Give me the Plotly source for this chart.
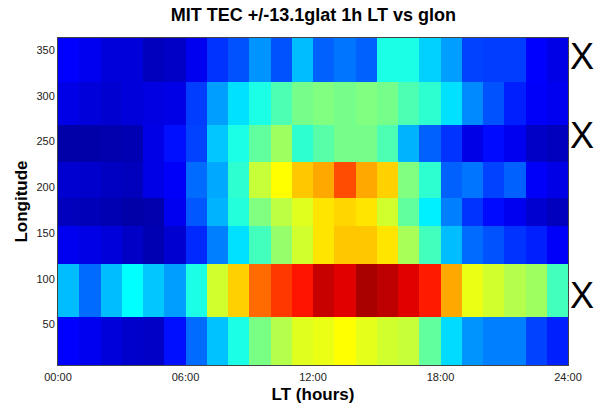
import plotly.graph_objects as go

# Local time bin edges (hours) and longitude bin edges (degrees)
lt_edges = list(range(0, 25))
lon_edges = [5.7, 58, 116, 158, 188, 227, 268, 315, 363]

lt_tickvals = [0, 6, 12, 18, 24]
lt_ticktext = ["00:00", "06:00", "12:00", "18:00", "24:00"]
lon_tickvals = [50, 100, 150, 200, 250, 300, 350]

# Normalised TEC (colour-scale position), rows from lowest longitude bin upward
tec_lon0 = [0.125, 0.11, 0.09, 0.075, 0.07, 0.14, 0.23, 0.315, 0.40, 0.495, 0.55, 0.595,
            0.605, 0.625, 0.60, 0.58, 0.57, 0.47, 0.34, 0.27, 0.25, 0.25, 0.19, 0.155]
tec_lon1 = [0.31, 0.23, 0.31, 0.375, 0.32, 0.28, 0.40, 0.58, 0.67, 0.77, 0.82, 0.855,
            0.93, 0.905, 0.96, 0.94, 0.905, 0.85, 0.71, 0.605, 0.58, 0.55, 0.53, 0.44]
tec_lon2 = [0.11, 0.10, 0.09, 0.07, 0.05, 0.08, 0.165, 0.25, 0.345, 0.44, 0.52, 0.58,
            0.65, 0.68, 0.68, 0.65, 0.54, 0.44, 0.31, 0.23, 0.205, 0.175, 0.155, 0.12]
tec_lon3 = [0.06, 0.055, 0.05, 0.04, 0.045, 0.11, 0.21, 0.30, 0.41, 0.50, 0.56, 0.595,
            0.65, 0.665, 0.65, 0.58, 0.47, 0.36, 0.25, 0.175, 0.135, 0.11, 0.08, 0.06]
tec_lon4 = [0.08, 0.075, 0.065, 0.06, 0.10, 0.12, 0.23, 0.29, 0.42, 0.57, 0.625, 0.68,
            0.71, 0.80, 0.71, 0.67, 0.50, 0.42, 0.22, 0.24, 0.19, 0.22, 0.12, 0.10]
tec_lon5 = [0.04, 0.04, 0.045, 0.05, 0.10, 0.14, 0.19, 0.32, 0.40, 0.47, 0.53, 0.42,
            0.46, 0.49, 0.49, 0.45, 0.30, 0.22, 0.175, 0.10, 0.135, 0.11, 0.07, 0.06]
tec_lon6 = [0.10, 0.09, 0.08, 0.09, 0.095, 0.10, 0.185, 0.28, 0.345, 0.40, 0.45, 0.49,
            0.50, 0.49, 0.50, 0.49, 0.45, 0.42, 0.345, 0.26, 0.205, 0.155, 0.12, 0.11]
tec_lon7 = [0.125, 0.11, 0.09, 0.09, 0.06, 0.07, 0.11, 0.175, 0.205, 0.27, 0.205, 0.31,
            0.22, 0.24, 0.22, 0.40, 0.40, 0.33, 0.28, 0.19, 0.185, 0.185, 0.125, 0.10]

# Longitudes flagged with an X on the right
flag_lons = [343, 257, 82]

jet = [[0.0, "rgb(0,0,128)"], [0.125, "rgb(0,0,255)"], [0.375, "rgb(0,255,255)"],
       [0.625, "rgb(255,255,0)"], [0.875, "rgb(255,0,0)"], [1.0, "rgb(128,0,0)"]]

z = [tec_lon0, tec_lon1, tec_lon2, tec_lon3, tec_lon4, tec_lon5, tec_lon6, tec_lon7]

fig = go.Figure(go.Heatmap(
    x=lt_edges, y=lon_edges, z=z, colorscale=jet, zmin=0, zmax=1,
    showscale=False,
))

for lon in flag_lons:
    fig.add_annotation(x=1.0, xref="paper", y=lon, yref="y", text="X",
                       showarrow=False, xanchor="left", yanchor="middle", xshift=0,
                       font=dict(family="Liberation Sans, Arial, sans-serif", size=36, color="black"))

fig.update_layout(
    width=597, height=406,
    margin=dict(l=58, r=29, t=38, b=41),
    paper_bgcolor="white", plot_bgcolor="white",
    font=dict(family="Liberation Sans, Arial, sans-serif", color="#222"),
    title=dict(text="<b>MIT TEC +/-13.1glat 1h LT vs glon</b>", x=0.525, xanchor="center",
               y=0.963, yanchor="middle", font=dict(size=18, color="black")),
    xaxis=dict(range=[0, 24], tickvals=lt_tickvals, ticktext=lt_ticktext, ticks="",
               showgrid=False, zeroline=False, showline=True, linecolor="#444", linewidth=1,
               mirror=True, tickfont=dict(size=11, color="#222"), ticklabelstandoff=2,
               automargin=False,
               title=dict(text="<b>LT (hours)</b>", font=dict(size=17, color="black"), standoff=5)),
    yaxis=dict(range=[lon_edges[0], lon_edges[-1]], tickvals=lon_tickvals, ticks="",
               showgrid=False, zeroline=False, showline=True, linecolor="#444", linewidth=1,
               mirror=True, tickfont=dict(size=11, color="#222"), automargin=False,
               title=dict(text="<b>Longitude</b>", font=dict(size=17, color="black"), standoff=4)),
)

fig.write_html("out.html")
